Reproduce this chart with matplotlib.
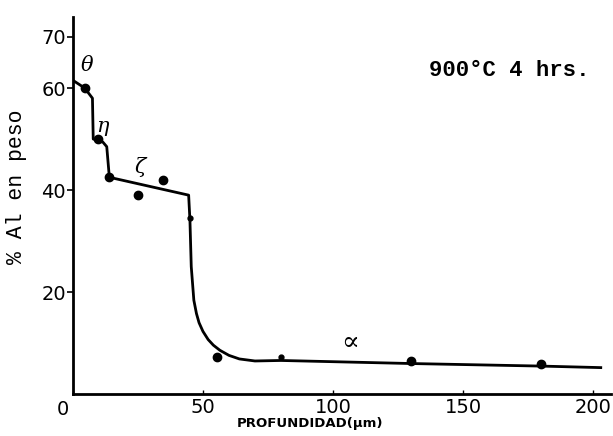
import matplotlib.pyplot as plt

# measured points (depth in um, % Al by weight)
dot_x = [4.5, 9.5, 14, 25, 34.5, 55.5, 130, 180]
dot_y = [60, 50, 42.5, 39, 42, 7.2, 6.5, 6.0]
small_x = [45, 80]
small_y = [34.5, 7.2]

# hand-drawn profile curve
curve_x = [0, 4.5, 7.5, 7.8, 11.5, 13, 14, 44.5, 45, 45.5, 46.5, 47.5, 48.5, 50, 52, 54, 56.5, 60, 64, 70, 80, 130, 180, 203]
curve_y = [61.5, 60, 58, 50, 49.4, 48.5, 42.5, 39, 34, 25, 18.4, 15.8, 14, 12.3, 10.7, 9.6, 8.6, 7.6, 6.9, 6.5, 6.6, 6.0, 5.5, 5.2]

phase_labels = ['θ', 'η', 'ζ', '∝']
phase_x = [5.5, 11.5, 26, 106.5]
phase_y = [64.5, 52.5, 44.5, 10.2]
phase_size = [15, 15, 15, 19]

x_ticks = [0, 50, 100, 150, 200]
y_ticks = [20, 40, 60, 70]

fig = plt.figure(figsize=(6.13, 4.36), dpi=100)
ax = fig.add_axes([0.119, 0.096, 0.878, 0.866])

ax.plot(curve_x, curve_y, color='black', lw=2)
ax.plot(dot_x, dot_y, 'o', color='black', ms=6)
ax.plot(small_x, small_y, 'o', color='black', ms=3.5)

for lab, px, py, fs in zip(phase_labels, phase_x, phase_y, phase_size):
    ax.text(px, py, lab, fontsize=fs, ha='center', va='center', family='DejaVu Serif', style='italic')

ax.text(137, 63.5, '900°C 4 hrs.', fontsize=16, family='Liberation Mono', fontweight='bold', va='center')

ax.set_xlim(0, 207)
ax.set_ylim(0, 74)
ax.set_xticks(x_ticks)
ax.set_xticklabels([''] + [str(t) for t in x_ticks[1:]])
ax.set_yticks(y_ticks)
ax.text(-4, -3.0, '0', fontsize=14, ha='center', va='center')

ax.spines['top'].set_visible(False)
ax.spines['right'].set_visible(False)
ax.spines['left'].set_linewidth(2)
ax.spines['bottom'].set_linewidth(2)
ax.tick_params(axis='y', labelsize=14, length=4, width=1.2, direction='out', pad=1)
ax.tick_params(axis='x', labelsize=14, length=3, width=1, direction='in', pad=3)

ax.set_ylabel('% Al en peso', fontsize=15.5, family='Liberation Mono')
ax.yaxis.set_label_coords(-0.085, 0.55)
ax.set_xlabel('PROFUNDIDAD(\u03bcm)', fontsize=9.5, fontweight='bold')
ax.xaxis.set_label_coords(0.44, -0.061)

fig.savefig('out.png', dpi=100)
